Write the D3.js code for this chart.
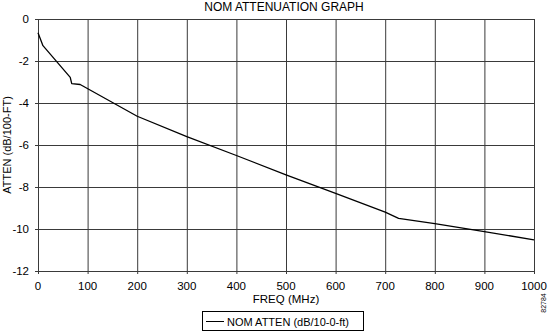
<!DOCTYPE html>
<html><head><meta charset="utf-8">
<script src="https://cdn.jsdelivr.net/npm/d3@7"></script>
<style>body{margin:0;background:#fff}svg{display:block;font-family:"Liberation Sans",Arial,sans-serif}</style>
</head><body><svg id="c" width="550" height="332"></svg>
<script>
const freq = [0, 10, 65, 68, 85, 200, 300, 400, 500, 600, 700, 727, 800, 900, 1000];
const atten = [-0.65, -1.27, -2.78, -3.08, -3.12, -4.63, -5.6, -6.5, -7.42, -8.3, -9.2, -9.49, -9.74, -10.12, -10.52];
const xTicks = [0,100,200,300,400,500,600,700,800,900,1000];
const yTicks = [0,-2,-4,-6,-8,-10,-12];
const title = "NOM ATTENUATION GRAPH";
const xLabel = "FREQ (MHz)";
const yLabel = "ATTEN (dB/100-FT)";
const legendLabel = "NOM ATTEN (dB/10-0-ft)";
const figId = "82784";

const svg = d3.select("#c");
const L=38, R=534, T=19, B=271;
const x = d3.scaleLinear().domain([0,1000]).range([L,R]);
const y = d3.scaleLinear().domain([0,-12]).range([T,B]);

const g = svg.append("g");
g.selectAll(".vg").data(xTicks).join("line")
 .attr("x1",d=>x(d)+0.5).attr("x2",d=>x(d)+0.5).attr("y1",T).attr("y2",B+3)
 .attr("stroke","#3a3a3a").attr("stroke-width",1);
g.selectAll(".hg").data(yTicks).join("line")
 .attr("y1",d=>y(d)+0.5).attr("y2",d=>y(d)+0.5).attr("x1",L-3).attr("x2",R)
 .attr("stroke","#3a3a3a").attr("stroke-width",1);

g.selectAll(".yl").data(yTicks).join("text")
 .attr("x",29).attr("y",d=>y(d)+4).attr("text-anchor","end")
 .attr("font-size",11.5).text(d=>d);
g.selectAll(".xl").data(xTicks).join("text")
 .attr("x",d=>x(d)).attr("y",290).attr("text-anchor","middle")
 .attr("font-size",11.5).text(d=>d);

const line = d3.line().x((d,i)=>x(freq[i])).y(d=>y(d));
g.append("path").attr("d",line(atten)).attr("fill","none")
 .attr("stroke","#000").attr("stroke-width",1.3).attr("stroke-linejoin","round");

svg.append("text").attr("x",284).attr("y",11).attr("text-anchor","middle")
 .attr("font-size",12).text(title);
svg.append("text").attr("x",286).attr("y",303).attr("text-anchor","middle")
 .attr("font-size",11.5).text(xLabel);
svg.append("text").attr("transform","translate(11,145) rotate(-90)")
 .attr("text-anchor","middle").attr("font-size",11).text(yLabel);

const lg = svg.append("g");
lg.append("rect").attr("x",202.5).attr("y",311.5).attr("width",161).attr("height",19)
 .attr("fill","none").attr("stroke","#000").attr("stroke-width",1);
lg.append("line").attr("x1",206).attr("x2",224).attr("y1",321.5).attr("y2",321.5)
 .attr("stroke","#000").attr("stroke-width",1);
lg.append("text").attr("x",227).attr("y",325.5).attr("font-size",11).text(legendLabel);

svg.append("text").attr("transform","translate(546,303) rotate(-90)")
 .attr("text-anchor","middle").attr("font-size",7).text(figId);
</script></body></html>
